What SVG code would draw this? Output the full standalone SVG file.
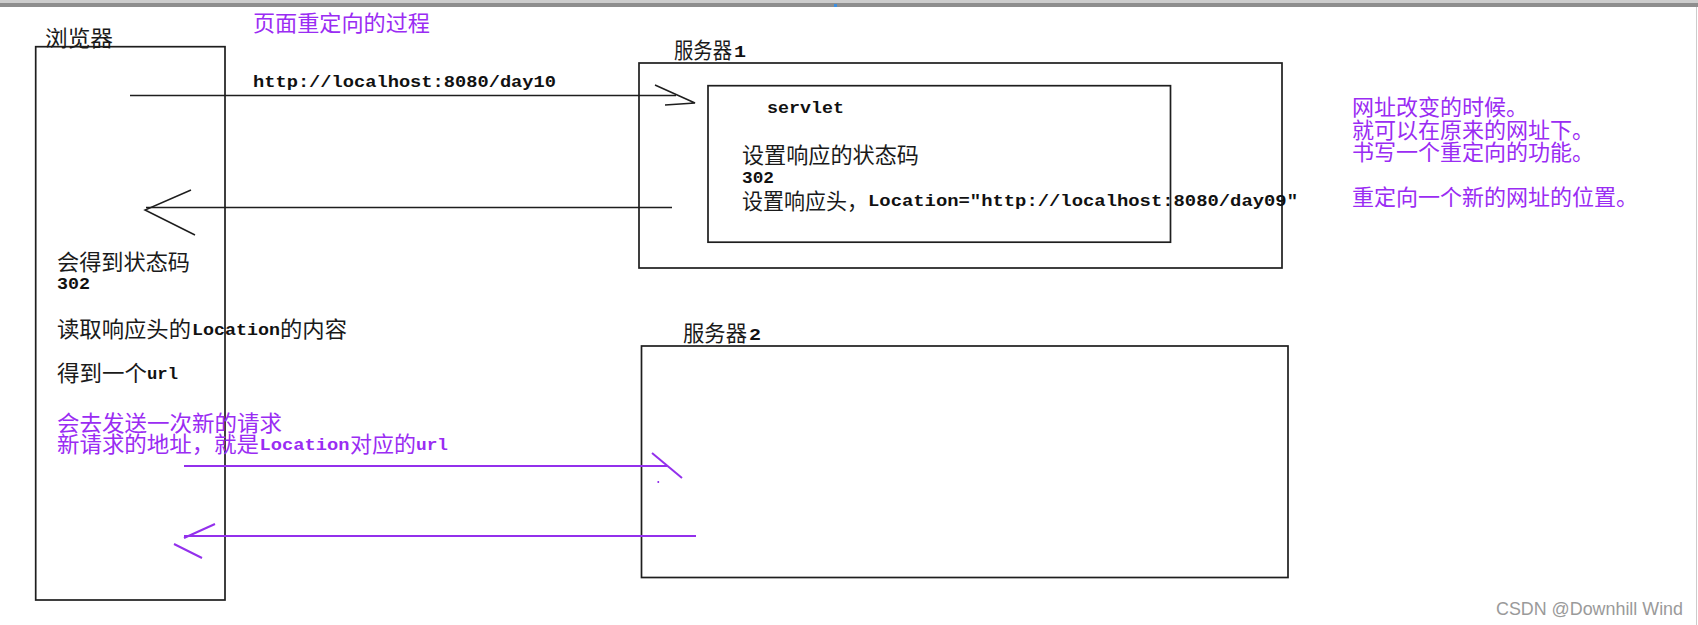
<svg xmlns="http://www.w3.org/2000/svg" width="1698" height="625" viewBox="0 0 1698 625">
<style>
.box{fill:none;stroke:#1e1e1e;stroke-width:1.7}
.ln{fill:none;stroke:#1e1e1e;stroke-width:1.5}
.pl{fill:none;stroke:#9330ec;stroke-width:2}
.cj{font-family:"Noto Sans CJK SC","Noto Sans CJK JP",sans-serif;font-size:22px;fill:#1a1a1a}
.mo{font-family:"Liberation Mono","DejaVu Sans Mono",monospace;font-weight:bold;font-size:17px;fill:#111}
.pu{fill:#9a2cf3}
.wm{font-family:"Liberation Sans",Arial,sans-serif;font-size:18px;fill:#9a9a9a}
</style>
<rect x="0" y="0" width="1698" height="625" fill="#ffffff"/>
<rect x="0" y="0" width="1698" height="3" fill="#cdcdcd"/>
<rect x="0" y="3" width="1698" height="4" fill="#8e8e8e"/>
<rect x="834" y="4" width="3" height="3" fill="#3d8fe0"/>
<line x1="1696.5" y1="7" x2="1696.5" y2="625" stroke="#cccccc" stroke-width="1"/>

<text class="cj pu" x="253" y="31" textLength="177" lengthAdjust="spacingAndGlyphs">页面重定向的过程</text>

<g id="browser">
<rect class="box" x="35.7" y="46.7" width="189.3" height="553.3"/>
<text class="cj" x="45" y="46" textLength="68" lengthAdjust="spacingAndGlyphs">浏览器</text>
<text class="cj" x="57" y="270" textLength="133" lengthAdjust="spacingAndGlyphs">会得到状态码</text>
<text class="mo" x="57" y="289" textLength="33" lengthAdjust="spacingAndGlyphs">302</text>
<text class="cj" x="57" y="337" textLength="134" lengthAdjust="spacingAndGlyphs">读取响应头的</text>
<text class="mo" x="192" y="335" textLength="88" lengthAdjust="spacingAndGlyphs">Location</text>
<text class="cj" x="280" y="337" textLength="67" lengthAdjust="spacingAndGlyphs">的内容</text>
<text class="cj" x="57" y="381" textLength="90" lengthAdjust="spacingAndGlyphs">得到一个</text>
<text class="mo" x="147" y="379" textLength="31" lengthAdjust="spacingAndGlyphs">url</text>
<text class="cj pu" x="57" y="431" textLength="225" lengthAdjust="spacingAndGlyphs">会去发送一次新的请求</text>
<text class="cj pu" x="57" y="452" textLength="202" lengthAdjust="spacingAndGlyphs">新请求的地址，就是</text>
<text class="mo pu" x="259.5" y="450" textLength="90" lengthAdjust="spacingAndGlyphs">Location</text>
<text class="cj pu" x="350" y="452" textLength="66" lengthAdjust="spacingAndGlyphs">对应的</text>
<text class="mo pu" x="416" y="450" textLength="32" lengthAdjust="spacingAndGlyphs">url</text>
</g>

<g id="server1">
<rect class="box" x="639" y="63" width="643" height="205"/>
<text class="cj" x="674" y="58" textLength="58" lengthAdjust="spacingAndGlyphs">服务器</text>
<text class="mo" x="734" y="57" textLength="12" lengthAdjust="spacingAndGlyphs">1</text>
</g>

<g id="servlet">
<rect class="box" x="708" y="85.7" width="462.5" height="156.5"/>
<text class="mo" x="767" y="113" textLength="77" lengthAdjust="spacingAndGlyphs">servlet</text>
<text class="cj" x="742" y="163" textLength="177" lengthAdjust="spacingAndGlyphs">设置响应的状态码</text>
<text class="mo" x="742" y="183" textLength="32" lengthAdjust="spacingAndGlyphs">302</text>
<text class="cj" x="742" y="208.5" textLength="126" lengthAdjust="spacingAndGlyphs">设置响应头，</text>
<text class="mo" x="868" y="206" textLength="430" lengthAdjust="spacingAndGlyphs">Location="http://localhost:8080/day09"</text>
</g>

<g id="server2">
<rect class="box" x="641.5" y="346" width="646.5" height="231.5"/>
<text class="cj" x="683" y="341" textLength="64" lengthAdjust="spacingAndGlyphs">服务器</text>
<text class="mo" x="749" y="340" textLength="12" lengthAdjust="spacingAndGlyphs">2</text>
</g>

<g id="note">
<text class="cj pu" x="1352" y="115" textLength="176" lengthAdjust="spacingAndGlyphs">网址改变的时候。</text>
<text class="cj pu" x="1352" y="137.5" textLength="242" lengthAdjust="spacingAndGlyphs">就可以在原来的网址下。</text>
<text class="cj pu" x="1352" y="160" textLength="242" lengthAdjust="spacingAndGlyphs">书写一个重定向的功能。</text>
<text class="cj pu" x="1352" y="205" textLength="286" lengthAdjust="spacingAndGlyphs">重定向一个新的网址的位置。</text>
</g>

<g id="connectors">
<text class="mo" x="253" y="87" textLength="303" lengthAdjust="spacingAndGlyphs">http://localhost:8080/day10</text>
<line class="ln" x1="130" y1="95.5" x2="676" y2="95.5"/>
<polyline class="ln" points="655,85 695,103 665,105"/>
<line class="ln" x1="146" y1="207.5" x2="672" y2="207.5"/>
<polyline class="ln" points="191,190 145,210 195,235"/>
<line class="pl" x1="184" y1="466" x2="667" y2="466"/>
<line class="pl" x1="652" y1="453" x2="682" y2="478"/>
<rect x="657.5" y="481" width="1.6" height="2" fill="#9330ec"/>
<line class="pl" x1="184" y1="536" x2="696" y2="536"/>
<line class="pl" x1="184" y1="538" x2="215" y2="524"/>
<line class="pl" x1="174" y1="544" x2="202" y2="558"/>
</g>

<text class="wm" x="1496" y="615" textLength="187" lengthAdjust="spacingAndGlyphs">CSDN @Downhill Wind</text>
</svg>
